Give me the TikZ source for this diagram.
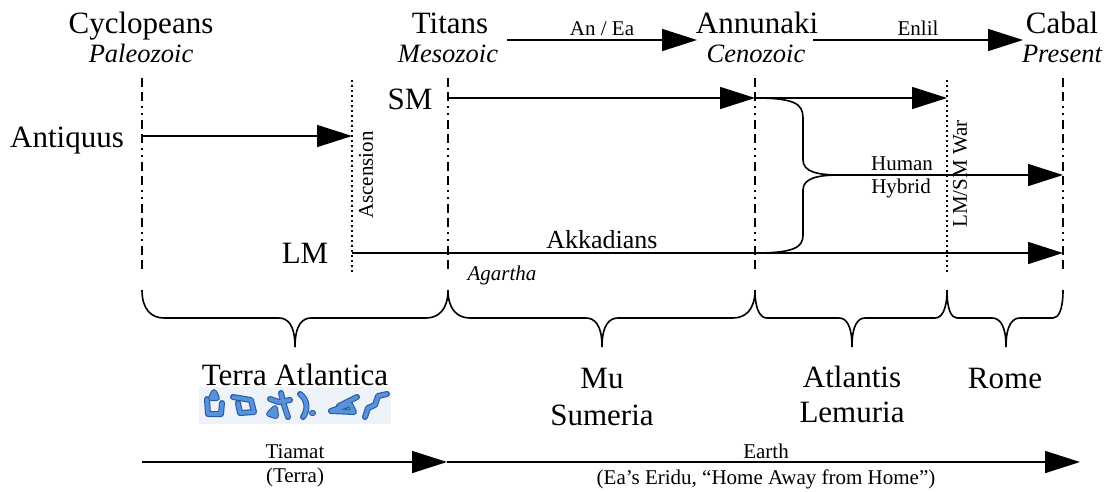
\documentclass[tikz,border=0pt]{standalone}
\usepackage{fontspec}
\setmainfont{Liberation Serif}
\usetikzlibrary{arrows.meta}
\definecolor{glyphbg}{RGB}{238,243,249}
\definecolor{glyphdark}{RGB}{40,88,160}
\definecolor{glyphlight}{RGB}{88,146,218}
\newcommand\mybrace[5]{%
  \draw[bracep] (#1,-290) .. controls (#1,-310) and ({#1+0.45*#4},-318) .. ({#1+#4},-318)
    -- ({#2-#5},-318) .. controls ({#2-0.5*#5},-318) and (#2,-324) .. (#2,-347)
    .. controls (#2,-324) and ({#2+0.5*#5},-318) .. ({#2+#5},-318)
    -- ({#3-#4},-318) .. controls ({#3-0.45*#4},-318) and (#3,-310) .. (#3,-290);}
\newcommand\glyphpaths[1]{%
  \draw[#1] (207,-399) -- (208,-414) -- (221,-414) -- (222,-403);
  \draw[#1] (211,-398) -- (214,-392) -- (217,-398) -- cycle;
  \draw[#1] (233,-397) -- (251,-400) -- (254,-412) -- (240,-413) -- (238,-403);
  \draw[#1] (281,-393) -- (284,-405) -- (288,-417);
  \draw[#1] (270,-399) -- (279,-402) -- (290,-400);
  \draw[#1] (269,-414) -- (275,-408) -- (276,-416) -- cycle;
  \draw[#1] (300,-394) .. controls (308,-400) and (308,-410) .. (303,-417);
  \draw[#1] (312,-413) -- (313,-413);
  \draw[#1] (331,-411) -- (350,-404) -- (354,-412) -- cycle;
  \draw[#1] (339,-406) -- (357,-397);
  \draw[#1] (387,-394) -- (378,-396) -- (375,-405) -- (368,-408) -- (365,-417);}
\begin{document}
\begin{tikzpicture}[x=1pt,y=1pt,
  big/.style={font=\fontsize{31}{37}\selectfont, inner sep=0pt, anchor=base},
  sub/.style={font=\fontsize{26.5}{30}\selectfont\itshape, inner sep=0pt, anchor=base},
  small/.style={font=\fontsize{21}{23}\selectfont, inner sep=0pt, anchor=base},
  smallit/.style={font=\fontsize{21}{23}\selectfont\itshape, inner sep=0pt, anchor=base},
  arr/.style={line width=1.6pt, -{Triangle[length=35pt,width=22pt]}},
  plain/.style={line width=1.6pt},
  dashdot/.style={line width=1.2pt, dash pattern=on 9pt off 5pt on 9pt off 5pt on 2pt off 5pt on 2pt off 5pt},
  dots/.style={line width=1.2pt, dash pattern=on 2pt off 3pt},
  bracep/.style={line width=1.6pt},
  glyphstroke/.style={line join=round, line cap=round}]
\useasboundingbox (0,0) rectangle (1107,-491);

% top labels
\node[big] (cyc) at (141,-33) {Cyclopeans};
\node[sub] (pal) at (141,-62) {Paleozoic};
\node[big] (tit) at (450,-33) {Titans};
\node[sub] (mes) at (448,-62) {Mesozoic};
\node[big] (ann) at (757,-33) {Annunaki};
\node[sub] (cen) at (756,-62) {Cenozoic};
\node[big] (cab) at (1062,-33) {Cabal};
\node[sub] (pre) at (1062,-62) {Present};

\coordinate (anS) at (507,-40);
\coordinate (anE) at (697,-40);
\draw[arr] (anS) -- (anE);
\node[small] (anea) at (602,-35) {An / Ea};
\coordinate (enS) at (813,-40);
\coordinate (enE) at (1023,-40);
\draw[arr] (enS) -- (enE);
\node[small] (enlil) at (918,-35) {Enlil};

% vertical lines
\coordinate (v1t) at (142,-78);  \coordinate (v1b) at (142,-272);
\coordinate (v2t) at (352,-80);  \coordinate (v2b) at (352,-272);
\coordinate (v3t) at (448,-78);  \coordinate (v3b) at (448,-272);
\coordinate (v4t) at (755,-78);  \coordinate (v4b) at (755,-272);
\coordinate (v5t) at (947,-80);  \coordinate (v5b) at (947,-272);
\coordinate (v6t) at (1063,-78); \coordinate (v6b) at (1063,-272);
\draw[dashdot] (v1t) -- (v1b);
\draw[dots] (v2t) -- (v2b);
\draw[dashdot] (v3t) -- (v3b);
\draw[dashdot] (v4t) -- (v4b);
\draw[dots] (v5t) -- (v5b);
\draw[dashdot] (v6t) -- (v6b);

% row labels
\node[big] (ant) at (67,-147) {Antiquus};
\node[big] (sm) at (410,-109) {SM};
\node[big] (lm) at (305,-263) {LM};
\node[small, anchor=center, rotate=90] (asc) at (366,-175) {Ascension};
\node[small, anchor=center, rotate=90] (war) at (960,-174) {LM/SM War};

% arrows
\coordinate (antS) at (142,-136); \coordinate (antE) at (352,-136);
\draw[arr] (antS) -- (antE);
\coordinate (smS) at (448,-98); \coordinate (smM) at (755,-98); \coordinate (smE) at (947,-98);
\draw[arr] (smS) -- (smM);
\draw[arr] (smM) -- (smE);
\coordinate (lmS) at (352,-253); \coordinate (lmM) at (755,-253); \coordinate (lmE) at (1063,-253);
\draw[arr] (lmS) -- (lmE);
\coordinate (hh) at (840,-175); \coordinate (hhE) at (1063,-175);
\draw[plain] (smM) .. controls (795,-98) and (803,-104) .. (803,-118) -- (803,-160)
   .. controls (803,-172) and (818,-175) .. (hh);
\draw[plain] (lmM) .. controls (795,-253) and (803,-247) .. (803,-235) -- (803,-190)
   .. controls (803,-178) and (818,-175) .. (hh);
\draw[arr] (hh) -- (hhE);
\node[small] (human) at (902,-170) {Human};
\node[small] (hybrid) at (901,-193) {Hybrid};
\node[font=\fontsize{26}{30}\selectfont, inner sep=0pt, anchor=base] (akk) at (602,-248) {Akkadians};
\node[smallit] (aga) at (502,-280) {Agartha};

% braces
\mybrace{142}{295}{448}{22}{16}
\mybrace{448}{602}{755}{22}{16}
\mybrace{755}{852}{947}{12}{13}
\mybrace{947}{1006}{1063}{10}{14}

% bottom labels
\node[big] (terra) at (295,-385) {Terra Atlantica};
\fill[glyphbg] (199,-387) rectangle (391,-424);
\glyphpaths{glyphstroke, glyphdark, line width=6pt}
\glyphpaths{glyphstroke, glyphlight, line width=3.8pt}
\node[big] (mu) at (602,-388) {Mu};
\node[big] (sum) at (602,-425) {Sumeria};
\node[big] (atl) at (852,-387) {Atlantis};
\node[big] (lem) at (852,-422) {Lemuria};
\node[big] (rome) at (1005,-388) {Rome};

% bottom arrows
\coordinate (tS) at (142,-462); \coordinate (tE) at (447,-462); \coordinate (eE) at (1080,-462);
\draw[arr] (tS) -- (tE);
\draw[arr] (tE) -- (eE);
\node[small] (tia) at (295,-458) {Tiamat};
\node[small] (ter) at (295,-482) {(Terra)};
\node[small] (earth) at (766,-458) {Earth};
\node[small] (eridu) at (766,-484) {(Ea’s Eridu, “Home Away from Home”)};
\end{tikzpicture}
\end{document}
